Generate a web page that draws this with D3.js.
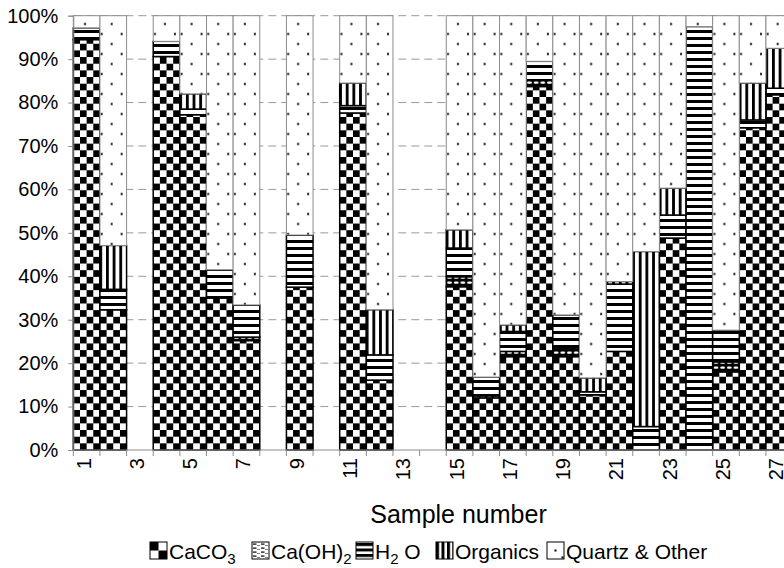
<!DOCTYPE html>
<html>
<head>
<meta charset="utf-8">
<script src="https://cdn.jsdelivr.net/npm/d3@7"></script>
<style>
  body { margin: 0; background: #fff; }
  svg { display: block; font-family: "Liberation Sans", Arial, sans-serif; }
</style>
</head>
<body>
<div id="chart"></div>
<script>
// values, percent of sample
const samples  = d3.range(1, 28);
const caco3    = [94.5, 32.3, 0, 90.6, 77.2, 35.0, 25.2, 0, 37.5, 0, 77.6, 16.1, 0, 0, 37.6, 12.0, 21.5, 83.7, 21.5, 12.7, 22.7, 0, 48.8, 0, 18.0, 74.2, 81.8];
const caoh2    = [0, 0, 0, 0, 0, 0, 0.8, 0, 0, 0, 0, 0, 0, 0, 2.3, 0.5, 1.2, 1.5, 2.0, 0, 0, 0, 0, 0, 2.3, 0, 0];
const h2o      = [2.7, 4.7, 0, 3.5, 1.3, 6.5, 7.4, 0, 12.0, 0, 1.7, 5.8, 0, 0, 6.6, 4.3, 4.6, 4.3, 7.6, 0.7, 15.5, 5.4, 5.3, 97.5, 7.3, 1.8, 1.5];
const organics = [0, 10.1, 0, 0, 3.5, 0, 0, 0, 0, 0, 5.2, 10.4, 0, 0, 4.2, 0, 1.5, 0, 0, 3.2, 0.6, 40.3, 6.2, 0, 0, 8.5, 9.2];
const quartz   = [2.8, 52.9, 0, 5.9, 18.0, 58.5, 66.6, 0, 50.5, 0, 15.5, 67.7, 0, 0, 49.3, 83.2, 71.2, 10.5, 68.9, 83.4, 61.2, 54.3, 39.7, 2.5, 72.4, 15.5, 7.5];
const yTicks   = [0, 10, 20, 30, 40, 50, 60, 70, 80, 90, 100];

const seriesKeys = ["caco3", "caoh2", "h2o", "organics", "quartz"];

const width = 784, height = 568;
const plotLeft = 73.3, band = 26.64, plotTop = 15.7, plotBottom = 450;

let svg = d3.select("#chart").append("svg")
    .attr("width", width)
    .attr("height", height);

let x = d3.scaleBand()
    .domain(samples)
    .range([plotLeft, plotLeft + band * samples.length])
    .padding(0);

let y = d3.scaleLinear()
    .domain([0, 100])
    .range([plotBottom, plotTop]);

// fill patterns
let defs = svg.append("defs");

function checker(id, px, py, s) {
  let p = defs.append("pattern").attr("id", id)
      .attr("patternUnits", "userSpaceOnUse")
      .attr("x", px).attr("y", py)
      .attr("width", 2 * s).attr("height", 2 * s);
  p.append("rect").attr("width", 2 * s).attr("height", 2 * s).attr("fill", "#fff");
  p.append("rect").attr("width", s).attr("height", s).attr("fill", "#000");
  p.append("rect").attr("x", s).attr("y", s).attr("width", s).attr("height", s).attr("fill", "#000");
}
checker("p-caco3", plotLeft, plotBottom, band / 4);

// Ca(OH)2 in the bars reads as black with white dashes
let pOh = defs.append("pattern").attr("id", "p-caoh2")
    .attr("patternUnits", "userSpaceOnUse")
    .attr("x", plotLeft).attr("y", 0)
    .attr("width", band / 4).attr("height", 5);
pOh.append("rect").attr("width", band / 4).attr("height", 5).attr("fill", "#000");
pOh.append("rect").attr("x", 1).attr("y", 1.5).attr("width", 4.6).attr("height", 2.2).attr("rx", 1).attr("fill", "#fff");

let pH = defs.append("pattern").attr("id", "p-h2o")
    .attr("patternUnits", "userSpaceOnUse")
    .attr("x", 0).attr("y", plotBottom)
    .attr("width", 10).attr("height", 7);
pH.append("rect").attr("width", 10).attr("height", 7).attr("fill", "#fff");
pH.append("rect").attr("width", 10).attr("height", 3).attr("fill", "#000");

let pOr = defs.append("pattern").attr("id", "p-organics")
    .attr("patternUnits", "userSpaceOnUse")
    .attr("x", plotLeft - 0.6).attr("y", 0)
    .attr("width", band / 4).attr("height", 10);
pOr.append("rect").attr("width", band / 4).attr("height", 10).attr("fill", "#fff");
pOr.append("rect").attr("width", 2.8).attr("height", 10).attr("fill", "#000");

let pQz = defs.append("pattern").attr("id", "p-quartz")
    .attr("patternUnits", "userSpaceOnUse")
    .attr("x", plotLeft).attr("y", plotTop)
    .attr("width", band).attr("height", 20);
pQz.append("rect").attr("width", band).attr("height", 20).attr("fill", "#fff");
[[1.7, 18.3], [21.7, 18.3], [11.7, 8.3]].forEach(function(p) {
  pQz.append("rect").attr("x", p[0] - 1).attr("y", p[1] - 1)
      .attr("width", 2).attr("height", 2).attr("fill", "#000");
});

// gridlines
svg.append("g")
    .selectAll("line")
    .data(yTicks.filter(function(d) { return d > 0; }))
    .enter()
    .append("line")
    .attr("x1", plotLeft).attr("x2", width + 20)
    .attr("y1", function(d) { return y(d); })
    .attr("y2", function(d) { return y(d); })
    .attr("stroke", "#9a9a9a")
    .attr("stroke-width", 1)
    .attr("stroke-dasharray", "8,5");

// stacked bars
let table = samples.map(function(s, i) {
  return {sample: s, caco3: caco3[i], caoh2: caoh2[i], h2o: h2o[i], organics: organics[i], quartz: quartz[i]};
});
let stacked = d3.stack().keys(seriesKeys)(table);

let layers = svg.append("g")
    .selectAll("g")
    .data(stacked)
    .enter()
    .append("g")
    .attr("fill", function(d) { return "url(#p-" + d.key + ")"; })
    .attr("stroke", function(d) { return d.key == "quartz" ? "#8c8c8c" : "#000"; })
    .attr("stroke-width", function(d) { return d.key == "quartz" ? 1 : 1.5; });

layers.selectAll("rect")
    .data(function(d) { return d.filter(function(v) { return v[1] - v[0] > 0; }); })
    .enter()
    .append("rect")
    .attr("x", function(d) { return x(d.data.sample); })
    .attr("width", x.bandwidth())
    .attr("y", function(d) { return y(d[1]); })
    .attr("height", function(d) { return y(d[0]) - y(d[1]); });

// y axis
let yAxis = svg.append("g")
    .attr("transform", `translate(${plotLeft},0)`)
    .call(d3.axisLeft(y).tickValues(yTicks).tickSize(5).tickPadding(10)
      .tickFormat(function(d) { return d + "%"; }));
yAxis.select(".domain").attr("stroke", "#8c8c8c");
yAxis.selectAll(".tick line").attr("stroke", "#8c8c8c");
yAxis.selectAll("text").attr("font-size", 20).attr("fill", "#000")
    .attr("font-family", "Liberation Sans, Arial, sans-serif");

// x axis: ticks between samples, labels on odd samples
let xg = svg.append("g");
xg.append("line")
    .attr("x1", plotLeft).attr("x2", width + 20)
    .attr("y1", plotBottom).attr("y2", plotBottom)
    .attr("stroke", "#8c8c8c");
xg.selectAll(".xt")
    .data(samples.concat([28]))
    .enter()
    .append("line")
    .attr("class", "xt")
    .attr("x1", function(d) { return plotLeft + (d - 1) * x.step(); })
    .attr("x2", function(d) { return plotLeft + (d - 1) * x.step(); })
    .attr("y1", plotBottom).attr("y2", plotBottom + 6)
    .attr("stroke", "#8c8c8c");
xg.selectAll(".xl")
    .data(samples.filter(function(d) { return d % 2 == 1; }))
    .enter()
    .append("text")
    .attr("class", "xl")
    .attr("transform", function(d) {
      return `translate(${x(d) + x.bandwidth() / 2 + 4},${plotBottom + 8}) rotate(-90)`;
    })
    .style("text-anchor", "end")
    .attr("font-size", 20)
    .text(function(d) { return d; });

// axis title
svg.append("text")
    .attr("x", 458.5).attr("y", 523)
    .style("text-anchor", "middle")
    .attr("font-size", 25)
    .text("Sample number");

// legend swatch patterns (drawn bigger than in the bars, as in the original)
const sw = 17, legTop = 542;
checker("p-leg-caco3", 150, legTop, sw / 2);

let pLegOh = defs.append("pattern").attr("id", "p-leg-caoh2")
    .attr("patternUnits", "userSpaceOnUse")
    .attr("x", 252).attr("y", legTop)
    .attr("width", 8).attr("height", 4);
pLegOh.append("rect").attr("width", 8).attr("height", 4).attr("fill", "#fff");
pLegOh.append("rect").attr("x", 1).attr("y", 1.5).attr("width", 3.5).attr("height", 1.2).attr("fill", "#000");
pLegOh.append("rect").attr("x", 5).attr("y", 3.5).attr("width", 3).attr("height", 1.2).attr("fill", "#000");

let pLegH = defs.append("pattern").attr("id", "p-leg-h2o")
    .attr("patternUnits", "userSpaceOnUse")
    .attr("x", 0).attr("y", legTop + 1)
    .attr("width", 10).attr("height", 5.5);
pLegH.append("rect").attr("width", 10).attr("height", 5.5).attr("fill", "#fff");
pLegH.append("rect").attr("width", 10).attr("height", 3).attr("fill", "#000");

let pLegOr = defs.append("pattern").attr("id", "p-leg-organics")
    .attr("patternUnits", "userSpaceOnUse")
    .attr("x", 436).attr("y", 0)
    .attr("width", 5.5).attr("height", 10);
pLegOr.append("rect").attr("width", 5.5).attr("height", 10).attr("fill", "#fff");
pLegOr.append("rect").attr("width", 3).attr("height", 10).attr("fill", "#000");

let pLegQz = defs.append("pattern").attr("id", "p-leg-quartz")
    .attr("patternUnits", "userSpaceOnUse")
    .attr("x", 547).attr("y", legTop)
    .attr("width", sw).attr("height", sw);
pLegQz.append("rect").attr("width", sw).attr("height", sw).attr("fill", "#fff");
pLegQz.append("rect").attr("x", 7.5).attr("y", 7.5).attr("width", 2).attr("height", 2).attr("fill", "#000");
pLegQz.append("rect").attr("x", 14.5).attr("y", 14.5).attr("width", 2).attr("height", 2).attr("fill", "#000");

// legend
let legendItems = [
  {key: "caco3", x: 150, parts: [["CaCO", false], ["3", true]]},
  {key: "caoh2", x: 252, parts: [["Ca(OH)", false], ["2", true]]},
  {key: "h2o", x: 356, parts: [["H", false], ["2", true], [" O", false]]},
  {key: "organics", x: 436, parts: [["Organics", false]]},
  {key: "quartz", x: 547, parts: [["Quartz & Other", false]]}
];
let legend = svg.append("g");
legendItems.forEach(function(item) {
  legend.append("rect")
      .attr("x", item.x).attr("y", legTop)
      .attr("width", sw).attr("height", sw)
      .attr("fill", "url(#p-leg-" + item.key + ")")
      .attr("stroke", "#000").attr("stroke-width", 1);
  let t = legend.append("text")
      .attr("x", item.x + sw + 2).attr("y", 558.5)
      .attr("font-size", 21);
  item.parts.forEach(function(p, i) {
    let ts = t.append("tspan").text(p[0]);
    if (p[1]) ts.attr("font-size", 15).attr("dy", 5);
    else if (i > 0) ts.attr("dy", -5);
  });
});
</script>
</body>
</html>
